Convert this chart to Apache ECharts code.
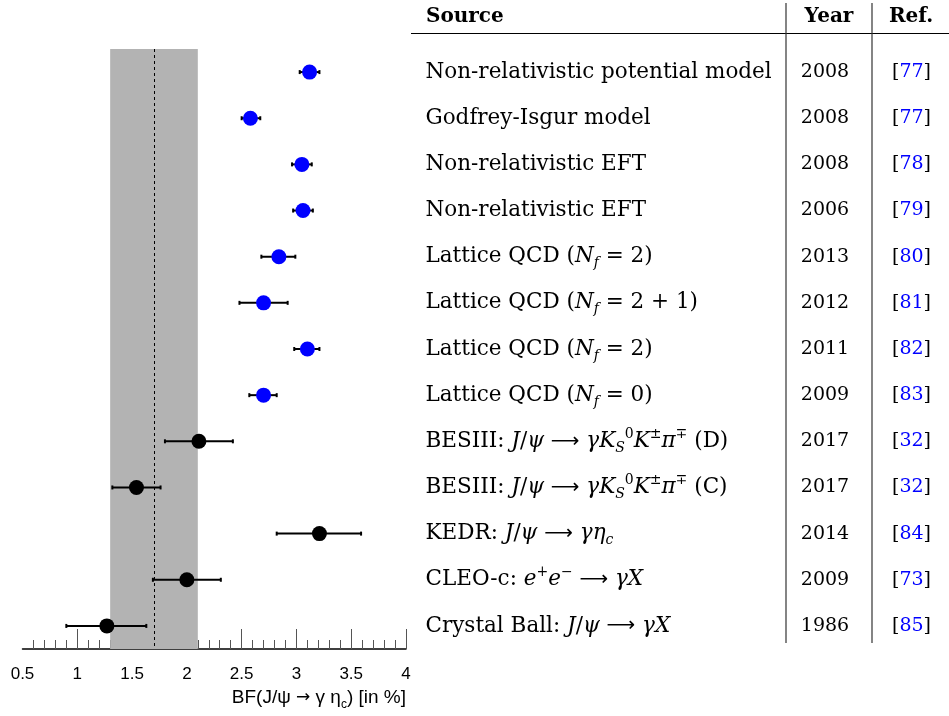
<!DOCTYPE html>
<html>
<head>
<meta charset="utf-8">
<script src="https://cdn.jsdelivr.net/npm/echarts@6/dist/echarts.min.js"></script>
<style>
  html, body { margin: 0; padding: 0; background: #fff; }
  #chart { width: 949px; height: 716px; }
</style>
</head>
<body>
<div id="chart"></div>
<script>
// rows, top to bottom ($...$ = math, _x / ^x = sub / sup)
const sources = [
  'Non-relativistic potential model',
  'Godfrey-Isgur model',
  'Non-relativistic EFT',
  'Non-relativistic EFT',
  'Lattice QCD ($N_f = 2$)',
  'Lattice QCD ($N_f = 2 + 1$)',
  'Lattice QCD ($N_f = 2$)',
  'Lattice QCD ($N_f = 0$)',
  'BESIII: $J/ψ → γK_S^0K^±π^∓$ (D)',
  'BESIII: $J/ψ → γK_S^0K^±π^∓$ (C)',
  'KEDR: $J/ψ → γη_c$',
  'CLEO-c: $e^+e^− → γX$',
  'Crystal Ball: $J/ψ → γX$'
];
const years = ['2008', '2008', '2008', '2006', '2013', '2012', '2011', '2009', '2017', '2017', '2014', '2009', '1986'];
const refs = ['77', '77', '78', '79', '80', '81', '82', '83', '32', '32', '84', '73', '85'];

// BF(J/psi -> gamma eta_c) in %
const bf     = [3.12, 2.58, 3.05, 3.06, 2.84, 2.70, 3.10, 2.70, 2.11, 1.54, 3.21, 2.00, 1.27];
const bfLow  = [3.03, 2.50, 2.96, 2.97, 2.68, 2.48, 2.98, 2.57, 1.80, 1.32, 2.82, 1.69, 0.90];
const bfHigh = [3.21, 2.67, 3.14, 3.15, 2.99, 2.92, 3.21, 2.82, 2.42, 1.76, 3.59, 2.31, 1.63];
const nTheory = 8; // first rows are theory (blue)

// average band
const avgValue = 1.7;
const avgLow = 1.3;
const avgHigh = 2.1;

const xTicks = { min: 0.5, max: 4, interval: 0.5 };
const majorTicks = [1, 1.5, 2, 2.5, 3, 3.5, 4]; // no big tick at 0.5

const serif = 'DejaVu Serif';
const sans = 'Liberation Sans';

// tiny latex-ish markup -> echarts rich text
function tex(s) {
  const parts = [];
  let math = false;
  const add = (st, t) => {
    const last = parts[parts.length - 1];
    if (last && last[0] === st) last[1] += t;
    else parts.push([st, t]);
  };
  for (let i = 0; i < s.length; i++) {
    let c = s[i];
    if (c === '$') { math = !math; continue; }
    if (math && (c === '_' || c === '^')) {
      const t = s[++i];
      add((c === '_' ? 'sub' : 'sup') + (/[A-Za-z]/.test(t) ? 'I' : ''), t);
      continue;
    }
    if (c === '→') { add('ar', '⟶'); continue; }
    add(math && /[A-Za-z\u03b1-\u03c9]/.test(c) ? 'it' : 'rm', c);
  }
  return parts.map(p => '{' + p[0] + '|' + p[1] + '}').join('');
}

const base = { fontFamily: serif, fontSize: 21.5, color: '#000', lineHeight: 28 };
const small = { fontFamily: serif, fontSize: 14, color: '#000', lineHeight: 14 };
const texRich = {
  rm: base,
  it: Object.assign({}, base, { fontStyle: 'italic' }),
  ar: Object.assign({}, base, { fontFamily: 'DejaVu Sans', fontSize: 20 }),
  sub: Object.assign({}, small, { verticalAlign: 'bottom' }),
  subI: Object.assign({}, small, { verticalAlign: 'bottom', fontStyle: 'italic' }),
  sup: Object.assign({}, small, { verticalAlign: 'top' }),
  supI: Object.assign({}, small, { verticalAlign: 'top', fontStyle: 'italic' })
};

const rows = sources.map((s, i) => i);

const catAxis = (extra) => Object.assign({
  type: 'category',
  inverse: true,
  position: 'right',
  data: rows,
  axisLine: { show: false },
  axisTick: { show: false },
  splitLine: { show: false }
}, extra);

const chart = echarts.init(document.getElementById('chart'));

chart.setOption({
  animation: false,
  backgroundColor: '#fff',
  grid: { left: 22.5, right: 543, top: 49, bottom: 67, containLabel: false, outerBoundsMode: 'none' },
  xAxis: {
    type: 'value',
    min: xTicks.min,
    max: xTicks.max,
    interval: xTicks.interval,
    axisLine: { show: true, onZero: false, lineStyle: { color: '#000', width: 1.5 } },
    axisTick: { show: true, inside: true, length: 20, customValues: majorTicks, lineStyle: { color: '#555', width: 1 } },
    minorTick: { show: true, splitNumber: 5, length: 9, lineStyle: { color: '#555', width: 1 } },
    splitLine: { show: false },
    minorSplitLine: { show: false },
    axisLabel: { fontFamily: sans, fontSize: 17, color: '#000', margin: 17 },
    name: 'BF(J/ψ {a|→} γ η{s|c}) [in %]',
    nameLocation: 'end',
    nameGap: 0,
    nameTextStyle: {
      fontFamily: sans, fontSize: 19, color: '#000',
      align: 'right', verticalAlign: 'top', padding: [36, 0, 0, 0],
      rich: {
        a: { fontFamily: 'DejaVu Sans', fontSize: 17, color: '#000' },
        s: { fontFamily: sans, fontSize: 12, color: '#000', padding: [14, 0, 0, 0] }
      }
    }
  },
  yAxis: [
    catAxis({
      axisLabel: { margin: 19.5, align: 'left', formatter: (v, i) => tex(sources[i]), rich: texRich }
    }),
    catAxis({
      axisLabel: { margin: 419, align: 'center', fontFamily: serif, fontSize: 19, color: '#000', formatter: (v, i) => years[i] }
    }),
    catAxis({
      axisLabel: {
        margin: 525, align: 'right',
        formatter: (v, i) => '{b|[}{n|' + refs[i] + '}{b|]}',
        rich: {
          b: { fontFamily: serif, fontSize: 19, color: '#000' },
          n: { fontFamily: serif, fontSize: 19, color: '#0000ff' }
        }
      }
    })
  ],
  graphic: [
    { type: 'text', x: 426, y: 17, style: { text: 'Source', fontFamily: serif, fontWeight: 'bold', fontSize: 20, fill: '#000', align: 'left', verticalAlign: 'middle' } },
    { type: 'text', x: 829, y: 17, style: { text: 'Year', fontFamily: serif, fontWeight: 'bold', fontSize: 20, fill: '#000', align: 'center', verticalAlign: 'middle' } },
    { type: 'text', x: 911, y: 17, style: { text: 'Ref.', fontFamily: serif, fontWeight: 'bold', fontSize: 20, fill: '#000', align: 'center', verticalAlign: 'middle' } },
    { type: 'line', shape: { x1: 411, y1: 33.5, x2: 949, y2: 33.5 }, style: { stroke: '#000', lineWidth: 1 } },
    { type: 'line', shape: { x1: 786, y1: 3, x2: 786, y2: 643 }, style: { stroke: '#333', lineWidth: 1.2 } },
    { type: 'line', shape: { x1: 872, y1: 3, x2: 872, y2: 643 }, style: { stroke: '#333', lineWidth: 1.2 } }
  ],
  series: [
    {
      name: 'average',
      type: 'line',
      data: [],
      z: 0,
      silent: true,
      markArea: {
        silent: true,
        itemStyle: { color: '#b3b3b3', opacity: 1 },
        data: [[{ xAxis: avgLow }, { xAxis: avgHigh }]]
      },
      markLine: {
        silent: true,
        symbol: 'none',
        label: { show: false },
        lineStyle: { color: '#000', width: 1, type: [3, 3] },
        data: [{ xAxis: avgValue }]
      }
    },
    {
      name: 'errors',
      type: 'custom',
      z: 2,
      data: bf.map((v, i) => [bfLow[i], bfHigh[i], i]),
      encode: { x: [0, 1], y: 2 },
      renderItem: function (params, api) {
        const y = api.value(2);
        const p0 = api.coord([api.value(0), y]);
        const p1 = api.coord([api.value(1), y]);
        const cap = 2;
        const style = { stroke: '#000', lineWidth: 2 };
        return {
          type: 'group',
          children: [
            { type: 'line', shape: { x1: p0[0], y1: p0[1], x2: p1[0], y2: p1[1] }, style: style },
            { type: 'line', shape: { x1: p0[0], y1: p0[1] - cap, x2: p0[0], y2: p0[1] + cap }, style: style },
            { type: 'line', shape: { x1: p1[0], y1: p1[1] - cap, x2: p1[0], y2: p1[1] + cap }, style: style }
          ]
        };
      }
    },
    {
      name: 'values',
      type: 'scatter',
      z: 3,
      symbol: 'circle',
      symbolSize: 15,
      data: bf.map((v, i) => [v, i]),
      itemStyle: {
        opacity: 1,
        color: (p) => p.dataIndex < nTheory ? '#0000ff' : '#000000'
      }
    }
  ]
});
</script>
</body>
</html>
